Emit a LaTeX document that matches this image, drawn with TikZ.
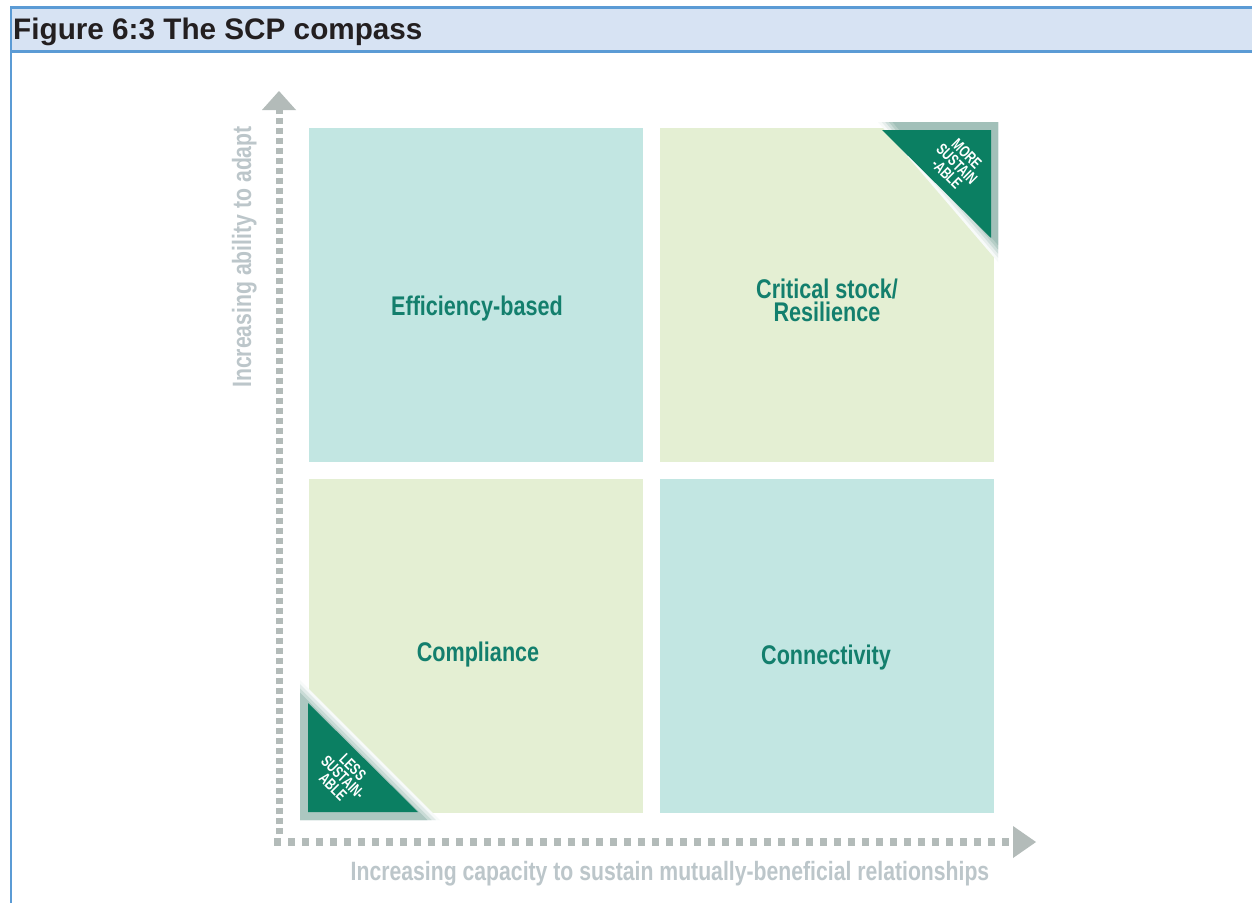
\documentclass[tikz,border=0pt]{standalone}
\usepackage{fontspec}
\setmainfont{Liberation Sans}
\newfontfamily\cond[FakeStretch=0.8]{Liberation Sans}
\newfontfamily\condx[FakeStretch=0.72]{Liberation Sans}
\usetikzlibrary{calc,backgrounds}
\definecolor{hdrfill}{HTML}{D7E3F3}
\definecolor{hdrline}{HTML}{5B9BD5}
\definecolor{qteal}{HTML}{C2E6E2}
\definecolor{qgreen}{HTML}{E4EFD3}
\definecolor{lbl}{HTML}{137F6D}
\definecolor{dgreen}{HTML}{0B7F62}
\definecolor{gg}{HTML}{9DBDB5}
\definecolor{axisc}{HTML}{B3BBB9}
\definecolor{axtxt}{HTML}{BCC6CA}
\definecolor{titletxt}{HTML}{231F20}
\begin{document}
\begin{tikzpicture}[x=1pt,y=-1pt,
  quad/.style={draw=none,minimum width=334pt,minimum height=334pt,inner sep=0pt,anchor=north west},
  qlabel/.style={text=lbl,font=\cond\bfseries\fontsize{27}{23}\selectfont,align=center,inner sep=0pt},
  tritext/.style={text=white,font=\condx\bfseries\fontsize{16}{14}\selectfont,align=center,rotate=-45,inner sep=0pt},
  axlabel/.style={text=axtxt,font=\cond\bfseries\fontsize{26.5}{26}\selectfont,inner sep=0pt},
  frameline/.style={draw=hdrline,line width=2.5pt},
]
\useasboundingbox (0,0) rectangle (1252,902);
\clip (0,0) rectangle (1252,902);
\fill[white] (0,0) rectangle (1252,902);

% header
\draw[frameline,fill=hdrfill] (11,7.5) rectangle (1258,51.5);
\draw[frameline] (11,51.5) -- (11,906);
\node[anchor=base west,inner sep=0pt,text=titletxt,font=\bfseries\fontsize{29.7}{29}\selectfont] (title) at (13,39.5) {Figure 6:3 The SCP compass};

% quadrants
\node[quad,fill=qteal]  (tl) at (309,128) {};
\node[quad,fill=qgreen] (tr) at (660,128) {};
\node[quad,fill=qgreen] (bl) at (309,479) {};
\node[quad,fill=qteal]  (br) at (660,479) {};

\begin{scope}[on background layer]
  \foreach \q in {tl,tr,bl,br}{
    \foreach \e/\o in {0/.05,1/.045,2/.04,3/.03,4/.02,5/.015}{
      \fill[black,opacity=\o] ([shift={(4-\e,5-\e)}]\q.north west) rectangle ([shift={(3+\e,4+\e)}]\q.south east);
    }
  }
\end{scope}

% corner triangles
\coordinate (trC) at (998,122);
\coordinate (trA) at (878,122);
\coordinate (trB) at (998,262);
\foreach \s/\c in {1/8,0.97/25,0.94/50,0.91/75,0.88/95}{
  \fill[gg!\c] (trC) -- ($(trC)!\s!(trA)$) -- ($(trC)!\s!(trB)$) -- cycle;
}
\fill[dgreen] (882,130) -- (991,130) -- (991,238) -- cycle;
\node[tritext] (more) at (957,164) {MORE\\SUSTAIN\\-ABLE};

\coordinate (blC) at (300,820);
\coordinate (blA) at (300,680);
\coordinate (blB) at (440,820);
\foreach \s/\c in {1/8,0.97/30,0.94/55,0.91/85}{
  \fill[gg!\c] (blC) -- ($(blC)!\s!(blA)$) -- ($(blC)!\s!(blB)$) -- cycle;
}
\fill[dgreen] (308,703) -- (308,812) -- (418,812) -- cycle;
\node[tritext] (less) at (343,777) {LESS\\SUSTAIN-\\ABLE};

% labels
\node[qlabel,anchor=base] (eff) at (477,315) {Efficiency-based};
\node[qlabel,anchor=center] (crit) at (827,300) {Critical stock/\\Resilience};
\node[qlabel,anchor=base] (comp) at (478,661) {Compliance};
\node[qlabel,anchor=base] (conn) at (826,664) {Connectivity};

% axes
\coordinate (O) at (279,842);
\coordinate (ystart) at (279,834);
\coordinate (ytop) at (279,110);
\coordinate (xstart) at (274,842);
\coordinate (xend) at (1013,842);
\draw[axisc,line width=7pt,dash pattern=on 6pt off 4pt] (ystart) -- (ytop);
\draw[axisc,line width=8pt,dash pattern=on 7pt off 7pt] (xstart) -- (xend);
\fill[axisc] ($(ytop)+(-17,0)$) -- ($(ytop)+(17,0)$) -- ($(ytop)+(0,-19)$) -- cycle;
\fill[axisc] ($(xend)+(0,-16)$) -- ($(xend)+(0,16)$) -- ($(xend)+(23,0)$) -- cycle;

\node[axlabel,rotate=90,anchor=base] (ylab) at (251,257) {Increasing ability to adapt};
\node[axlabel,anchor=base] (xlab) at (670,880) {Increasing capacity to sustain mutually-beneficial relationships};
\end{tikzpicture}
\end{document}
